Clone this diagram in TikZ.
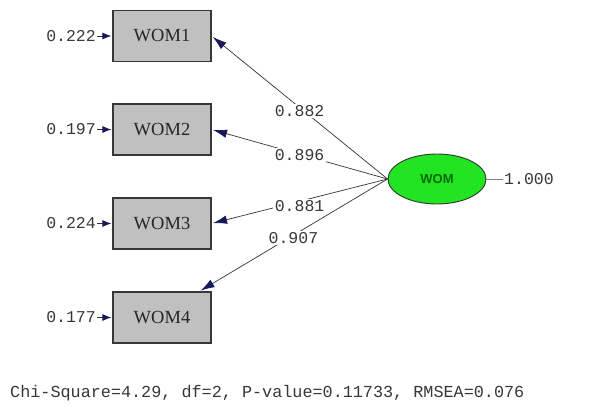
\documentclass[tikz,border=0pt]{standalone}
\usepackage{fontspec}
\setmainfont{Liberation Serif}
\newfontfamily\monofont{Liberation Mono}
\newfontfamily\sansfont{Liberation Sans}
\usetikzlibrary{arrows.meta,shapes.geometric}
\definecolor{boxgray}{RGB}{192,192,192}
\definecolor{edgegray}{RGB}{55,55,55}
\definecolor{tipnavy}{RGB}{24,24,88}
\definecolor{latgreen}{RGB}{34,228,34}
\definecolor{latdark}{RGB}{0,105,0}
\definecolor{numgray}{RGB}{55,55,55}
\tikzset{
  obsbox/.style={draw=edgegray, line width=1.2pt, fill=boxgray,
    minimum width=98pt, minimum height=51pt, inner sep=0pt,
    font=\fontsize{18.5}{20}\selectfont, text=black!85},
  latent/.style={ellipse, draw=black!80, line width=0.9pt, fill=latgreen,
    minimum width=98pt, minimum height=50pt, inner sep=0pt,
    font=\sansfont\bfseries\fontsize{13}{14}\selectfont, text=latdark},
  numtext/.style={font=\monofont\fontsize{16.5}{18}\selectfont, text=numgray, inner sep=1pt},
  loading/.style={draw=black!80, line width=0.7pt,
    -{Latex[length=14pt,width=8.5pt,color=tipnavy]}, shorten >=1.5pt},
  errarrow/.style={draw=black!80, line width=0.9pt,
    -{Latex[length=9pt,width=7pt,color=tipnavy]}, shorten >=1pt},
  coef/.style={numtext, fill=white, inner sep=1.5pt}
}
\begin{document}
\begin{tikzpicture}[x=1pt, y=-1pt]
\useasboundingbox (0,0) rectangle (610,410);

% observed indicators
\node[obsbox] (w1) at (162,36) {WOM1};
\node[obsbox] (w2) at (162,129.5) {WOM2};
\node[obsbox] (w3) at (162,223.5) {WOM3};
\node[obsbox] (w4) at (162,317.5) {WOM4};

% latent factor
\node[latent] (wom) at (437,179) {WOM};
\node[numtext, anchor=west] (var) at (503,179) {1.000};
\draw[gray, line width=0.6pt] (wom.east) -- (var.west);

% error variances
\node[numtext, anchor=east] (e1) at (97,36) {0.222};
\node[numtext, anchor=east] (e2) at (97,129.5) {0.197};
\node[numtext, anchor=east] (e3) at (97,223.5) {0.224};
\node[numtext, anchor=east] (e4) at (97,317.5) {0.177};
\draw[errarrow] (e1.east) -- (w1.west);
\draw[errarrow] (e2.east) -- (w2.west);
\draw[errarrow] (e3.east) -- (w3.west);
\draw[errarrow] (e4.east) -- (w4.west);

% factor loadings
\draw[loading] (wom.west) -- node[coef, pos=0.5, yshift=-3.5pt] (l1) {0.882} (w1.east);
\draw[loading] (wom.west) -- node[coef, pos=0.5, yshift=-1pt] (l2) {0.896} (w2.east);
\draw[loading] (wom.west) -- node[coef, pos=0.5, yshift=-5pt] (l3) {0.881} (w3.east);
\draw[loading] (wom.west) -- node[coef, pos=0.5, yshift=-3pt] (l4) {0.907} (w4.35);

% fit statistics
\node[numtext, anchor=west, font=\monofont\fontsize{16.8}{18}\selectfont] (fit) at (9,393) {Chi-Square=4.29, df=2, P-value=0.11733, RMSEA=0.076};
\end{tikzpicture}
\end{document}
